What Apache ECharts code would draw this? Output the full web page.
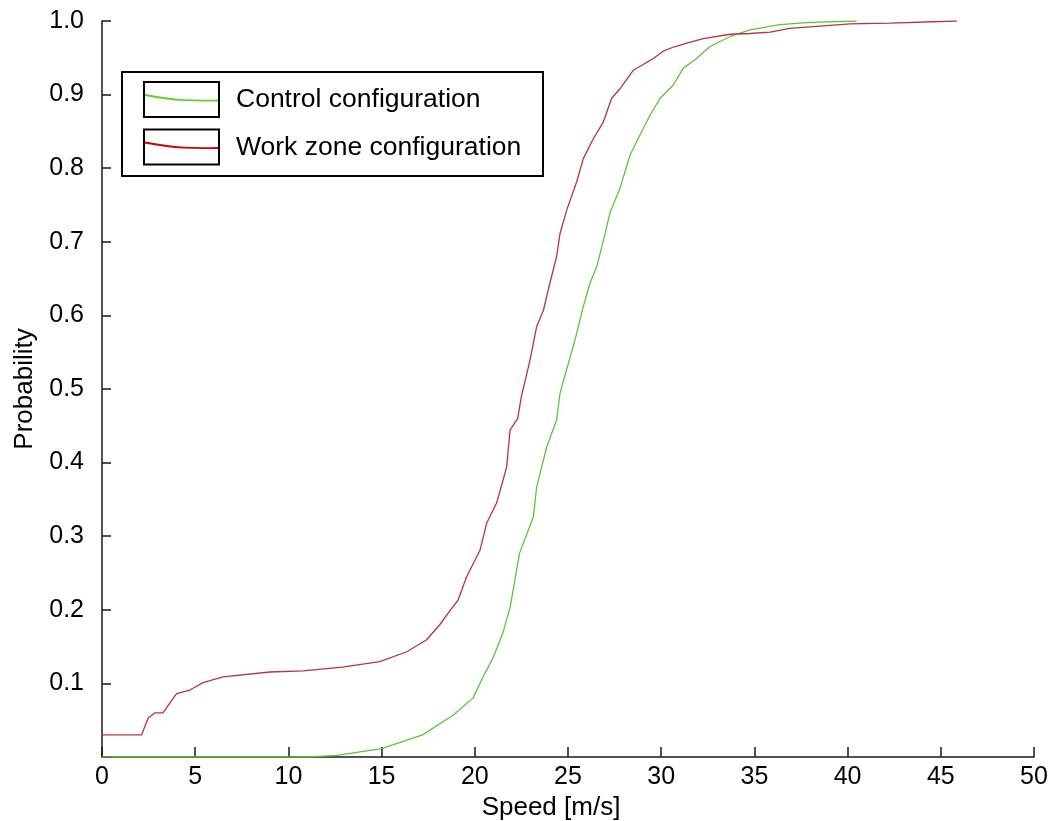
<!DOCTYPE html>
<html>
<head>
<meta charset="utf-8">
<script src="https://cdn.jsdelivr.net/npm/echarts@6/dist/echarts.min.js"></script>
<style>
  html, body { margin: 0; padding: 0; background: #fff; }
  #chart { width: 1049px; height: 821px; }
</style>
</head>
<body>
<div id="chart"></div>
<script>
const controlSpeed = [0, 11, 12.6, 15, 17.2, 18.85, 19.9, 20.45, 21.0, 21.5, 21.9, 22.4, 23.14, 23.32, 23.86,
  24.39, 24.57, 25.02, 25.38, 25.82, 26.18, 26.54, 26.9, 27.25, 27.79, 28.33, 28.86, 29.4, 29.94, 30.65,
  31.19, 31.9, 32.6, 33.7, 34.76, 36.37, 37.98, 40.49];
const controlProb = [0, 0, 0.0023, 0.0114, 0.03, 0.057, 0.08, 0.109, 0.136, 0.168, 0.204, 0.277, 0.326, 0.367, 0.4215,
  0.458, 0.494, 0.535, 0.567, 0.612, 0.644, 0.666, 0.702, 0.739, 0.773, 0.818, 0.845, 0.872, 0.895, 0.913,
  0.936, 0.949, 0.965, 0.979, 0.988, 0.995, 0.998, 1.0];

const workSpeed = [0, 2.12, 2.48, 2.84, 3.27, 4.0, 4.72, 5.42, 6.5, 9.0, 10.8, 12.9, 14.9, 16.35, 17.4, 18.1,
  18.7, 19.1, 19.56, 20.28, 20.64, 21.17, 21.71, 21.89, 22.3, 22.5, 22.96, 23.32, 23.68, 24.03, 24.39,
  24.57, 24.93, 25.47, 25.82, 26.36, 26.9, 27.34, 27.79, 28.5, 29.1, 29.58, 30.11, 30.7, 31.37, 32.26, 33.7, 34.76,
  35.84, 36.9, 40.13, 42.27, 45.85];
const workProb = [0.03, 0.03, 0.053, 0.06, 0.06, 0.086, 0.091, 0.101, 0.109, 0.1155, 0.117, 0.122, 0.1295, 0.143, 0.159, 0.179,
  0.2, 0.213, 0.245, 0.281, 0.318, 0.345, 0.394, 0.444, 0.46, 0.49, 0.539, 0.585, 0.607, 0.644, 0.68,
  0.711, 0.743, 0.782, 0.813, 0.84, 0.863, 0.895, 0.908, 0.933, 0.942, 0.949, 0.959, 0.965, 0.97, 0.976, 0.982, 0.983,
  0.985, 0.99, 0.996, 0.997, 1.0];

const seriesNames = ["Control configuration", "Work zone configuration"];
const colors = ["#5cc63a", "#b8343c"];
const legendColors = ["#66cc33", "#cc0000"];

function pairs(xs, ys) {
  return xs.map((x, i) => [x, ys[i]]);
}

const chart = echarts.init(document.getElementById("chart"));
const font = "Liberation Sans";

// legend drawn as a box with a little curve sample in each key
function legendKey(i) {
  const top = 82 + i * 47.5;
  return [
    {
      type: "rect",
      shape: { x: 144, y: top, width: 75, height: 35 },
      style: { fill: "#fff", stroke: "#000", lineWidth: 2 },
    },
    {
      type: "bezierCurve",
      shape: { x1: 145, y1: top + 13, x2: 218, y2: top + 18.5, cpx1: 175, cpy1: top + 19, cpx2: 195, cpy2: top + 19 },
      style: { stroke: legendColors[i], lineWidth: 1.8, fill: null },
    },
    {
      type: "text",
      x: 236,
      y: top + 18,
      style: { text: seriesNames[i], font: "26.5px " + font, fill: "#000", verticalAlign: "middle" },
    },
  ];
}

option = {
  animation: false,
  backgroundColor: "#fff",
  grid: { left: 102, right: 15, top: 21, bottom: 64, outerBoundsMode: "none" },
  xAxis: {
    type: "value",
    min: 0,
    max: 50,
    interval: 5,
    name: "Speed [m/s]",
    nameLocation: "middle",
    nameGap: 37,
    nameTextStyle: { fontFamily: font, fontSize: 26, color: "#000", padding: [0, 34, 0, 0] },
    axisLine: { lineStyle: { color: "#1a1a1a", width: 1.5 } },
    axisTick: { inside: true, length: 10, lineStyle: { color: "#1a1a1a", width: 1.5 } },
    axisLabel: { fontFamily: font, fontSize: 25, color: "#000", margin: 8 },
    splitLine: { show: false },
  },
  yAxis: {
    type: "value",
    min: 0,
    max: 1,
    interval: 0.1,
    name: "Probability",
    nameLocation: "middle",
    nameGap: 64,
    nameTextStyle: { fontFamily: font, fontSize: 26, color: "#000" },
    axisLine: { show: true, lineStyle: { color: "#1a1a1a", width: 1.5 } },
    axisTick: { show: true, inside: true, length: 9, lineStyle: { color: "#1a1a1a", width: 1.5 } },
    axisLabel: {
      fontFamily: font,
      fontSize: 25,
      color: "#000",
      margin: 18,
      formatter: function (v) {
        return v === 0 ? "" : v.toFixed(1);
      },
    },
    splitLine: { show: false },
  },
  series: [
    {
      name: seriesNames[0],
      type: "line",
      showSymbol: false,
      silent: true,
      lineStyle: { color: colors[0], width: 1.3 },
      data: pairs(controlSpeed, controlProb),
    },
    {
      name: seriesNames[1],
      type: "line",
      showSymbol: false,
      silent: true,
      lineStyle: { color: colors[1], width: 1.3 },
      data: pairs(workSpeed, workProb),
    },
  ],
  graphic: [
    {
      type: "rect",
      shape: { x: 122, y: 72, width: 421, height: 104 },
      style: { fill: "#fff", stroke: "#000", lineWidth: 2 },
      z: 10,
    },
  ].concat(
    legendKey(0).map((e) => Object.assign(e, { z: 11 })),
    legendKey(1).map((e) => Object.assign(e, { z: 11 }))
  ),
};

chart.setOption(option);
</script>
</body>
</html>
